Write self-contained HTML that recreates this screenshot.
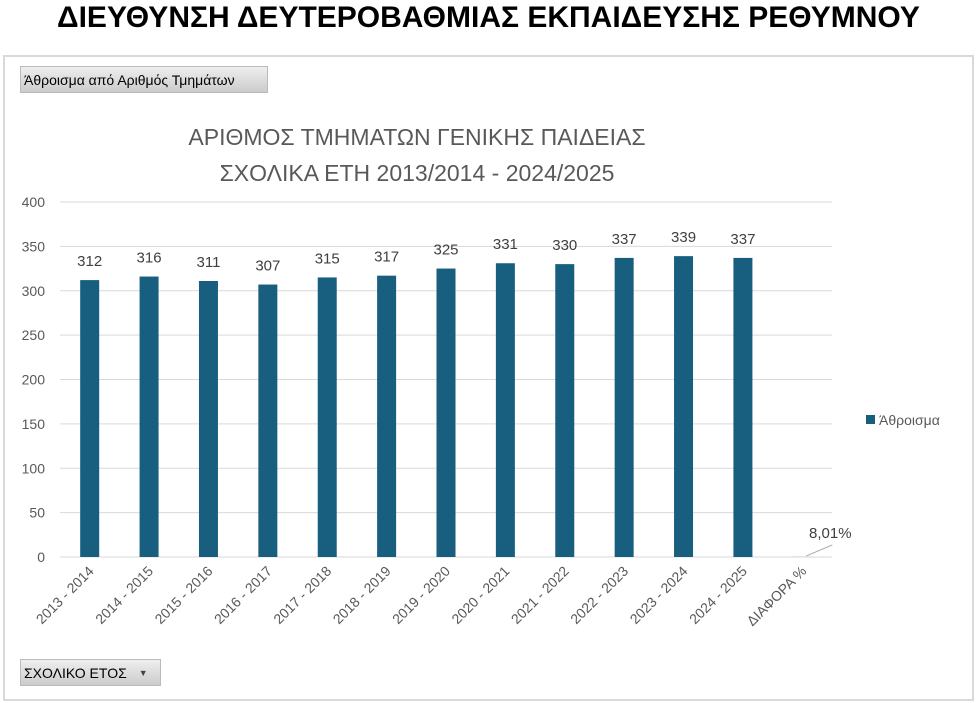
<!DOCTYPE html>
<html><head><meta charset="utf-8"><style>
body{margin:0;width:977px;height:703px;background:#fff;overflow:hidden;font-family:"Liberation Sans","DejaVu Sans",sans-serif}
#page-title{position:absolute;left:0;top:0;width:977px;text-align:center;font-weight:bold;font-size:30px;line-height:36px;color:#000}
#frame{position:absolute;left:3px;top:55px;width:967px;height:642px;border:2px solid #d9d9d9;box-sizing:content-box}
.btn{position:absolute;background:linear-gradient(#eee,#ccc);border:1px solid #bbb;font-size:14px;color:#000;display:flex;align-items:center;padding-left:3px;box-sizing:border-box}
svg{position:absolute;left:0;top:0}
</style></head><body>
<div id="page-title">ΔΙΕΥΘΥΝΣΗ ΔΕΥΤΕΡΟΒΑΘΜΙΑΣ ΕΚΠΑΙΔΕΥΣΗΣ ΡΕΘΥΜΝΟΥ</div>
<div id="frame"></div>
<svg id="chart" width="977" height="703"></svg>
<div class="btn" style="left:20px;top:66px;width:248px;height:27px">Άθροισμα από Αριθμός Τμημάτων</div>
<div class="btn" style="left:20px;top:659px;width:141px;height:27px">ΣΧΟΛΙΚΟ ΕΤΟΣ<span style="margin-left:12px;font-size:9px;color:#444">▼</span></div>
<script>
const categories=["2013 - 2014","2014 - 2015","2015 - 2016","2016 - 2017","2017 - 2018","2018 - 2019","2019 - 2020","2020 - 2021","2021 - 2022","2022 - 2023","2023 - 2024","2024 - 2025","ΔΙΑΦΟΡΑ %"];
const values=[312,316,311,307,315,317,325,331,330,337,339,337,0.0801];
const valueLabels=["312","316","311","307","315","317","325","331","330","337","339","337","8,01%"];
const yTicks=[0,50,100,150,200,250,300,350,400];
const NS="http://www.w3.org/2000/svg";
const svg=document.getElementById('chart');
const x0=60,x1=832,y0=557,y1=202,yMax=400;
const step=(x1-x0)/categories.length;
const yS=v=>y0-(v/yMax)*(y0-y1);
const xS=i=>x0+step*(i+0.5);
function mk(t,a){const e=document.createElementNS(NS,t);for(const k in a)e.setAttribute(k,a[k]);svg.appendChild(e);return e;}
let t=mk('text',{x:417,y:145,'font-size':23,fill:'#595959','text-anchor':'middle'});t.textContent='ΑΡΙΘΜΟΣ ΤΜΗΜΑΤΩΝ ΓΕΝΙΚΗΣ ΠΑΙΔΕΙΑΣ';


t=mk('text',{x:417,y:181,'font-size':23,fill:'#595959','text-anchor':'middle'});t.textContent='ΣΧΟΛΙΚΑ ΕΤΗ 2013/2014 - 2024/2025';


yTicks.forEach(v=>{
 const l=mk('line',{x1:x0,x2:x1,y1:yS(v),y2:yS(v),stroke:'#d9d9d9','stroke-width':1});
 
 
 const tx=mk('text',{x:45,y:yS(v)+5,'font-size':14,fill:'#595959','text-anchor':'end'});tx.textContent=v;
 
 
});
values.forEach((v,i)=>{
 const cx=xS(i),bw=19;
 const r=mk('rect',{x:cx-bw/2,y:yS(v),width:bw,height:y0-yS(v),fill:'#175e7f'});
 
 
 const last=i===categories.length-1;
 const lb=mk('text',{x:last?cx+28:cx,y:last?yS(v)-19:yS(v)-14,'font-size':15,fill:'#404040','text-anchor':'middle'});lb.textContent=valueLabels[i];
 
 
 if(last){const ll=mk('line',{x1:cx+4,y1:yS(v)-1,x2:cx+30,y2:yS(v)-12,stroke:'#a6a6a6','stroke-width':1});
  
  }
 const c=mk('text',{x:cx+5,y:572,'font-size':14,fill:'#595959','text-anchor':'end',transform:`rotate(-45 ${cx+5} 572)`});c.textContent=categories[i];
 
 
});
const lg=mk('rect',{x:866,y:415,width:9,height:9,fill:'#175e7f'});


t=mk('text',{x:879,y:425,'font-size':14,fill:'#595959'});t.textContent='Άθροισμα';


</script>
</body></html>
